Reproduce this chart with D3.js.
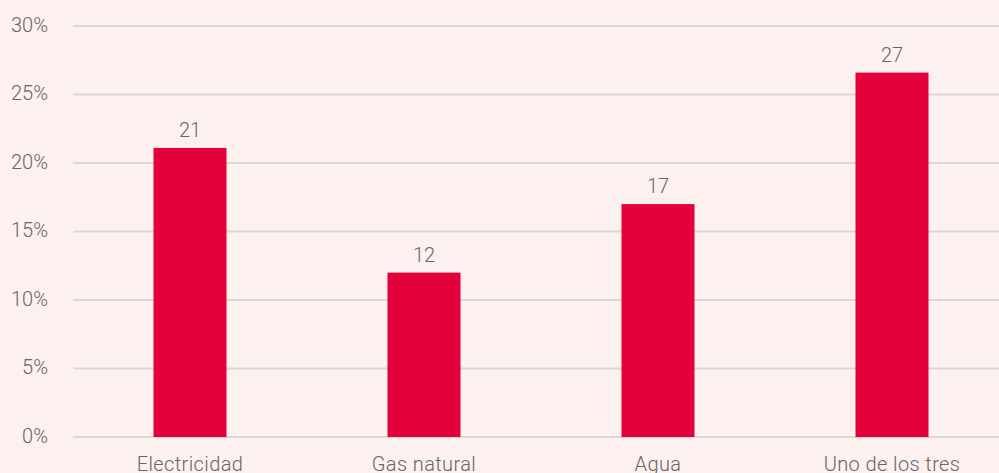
<html>
    <head>
        <style>
            body { margin: 0; background: #fdf1f0; overflow: hidden; }
            svg { display: block; font-family: Roboto, sans-serif; font-weight: 300; }
        </style>
    </head>
    <body>
        <svg></svg>
        <script src="https://d3js.org/d3.v7.min.js"></script>
        <script>
            // chart data
            const categories = ["Electricidad", "Gas natural", "Agua", "Uno de los tres"];
            const values = [21.1, 12.0, 17.0, 26.6];
            const valueLabels = ["21", "12", "17", "27"];
            const yTicks = [0, 5, 10, 15, 20, 25, 30];

            const width = 999, height = 473;
            const plotLeft = 73, plotRight = 1009, plotTop = 26, plotBottom = 437;

            const svg = d3.select("svg")
                .attr("width", width)
                .attr("height", height);

            svg.append("rect").attr("width", width).attr("height", height).attr("fill", "#fdf1f0");

            const x = d3.scaleBand()
                .domain(categories)
                .range([plotLeft, plotRight])
                .paddingInner(0.688)
                .paddingOuter(0.344);

            const y = d3.scaleLinear()
                .domain([0, 30])
                .range([plotBottom, plotTop]);

            // gridlines
            svg.selectAll(".grid")
                .data(yTicks)
                .join("line")
                .attr("x1", plotLeft)
                .attr("x2", width)
                .attr("y1", d => y(d))
                .attr("y2", d => y(d))
                .attr("stroke", "#dcd6d6")
                .attr("stroke-width", 2);

            // y tick labels
            svg.selectAll(".ytick")
                .data(yTicks)
                .join("text")
                .attr("x", 48)
                .attr("y", d => y(d))
                .attr("dy", "0.28em")
                .attr("text-anchor", "end")
                .attr("font-size", 20)
                .attr("fill", "#666")
                .text(d => d + "%");

            // bars
            svg.selectAll(".bar")
                .data(values)
                .join("rect")
                .attr("x", (d, i) => x(categories[i]))
                .attr("width", x.bandwidth())
                .attr("y", d => y(d))
                .attr("height", d => y(0) - y(d))
                .attr("fill", "#e4003a");

            // value labels
            svg.selectAll(".val")
                .data(values)
                .join("text")
                .attr("x", (d, i) => x(categories[i]) + x.bandwidth() / 2)
                .attr("y", d => y(d) - 11)
                .attr("text-anchor", "middle")
                .attr("font-size", 20)
                .attr("fill", "#666")
                .text((d, i) => valueLabels[i]);

            // x labels
            svg.selectAll(".xlab")
                .data(categories)
                .join("text")
                .attr("x", d => x(d) + x.bandwidth() / 2)
                .attr("y", 471)
                .attr("text-anchor", "middle")
                .attr("font-size", 20)
                .attr("letter-spacing", 0.4)
                .attr("fill", "#666")
                .text(d => d);
        </script>
    </body>
</html>
